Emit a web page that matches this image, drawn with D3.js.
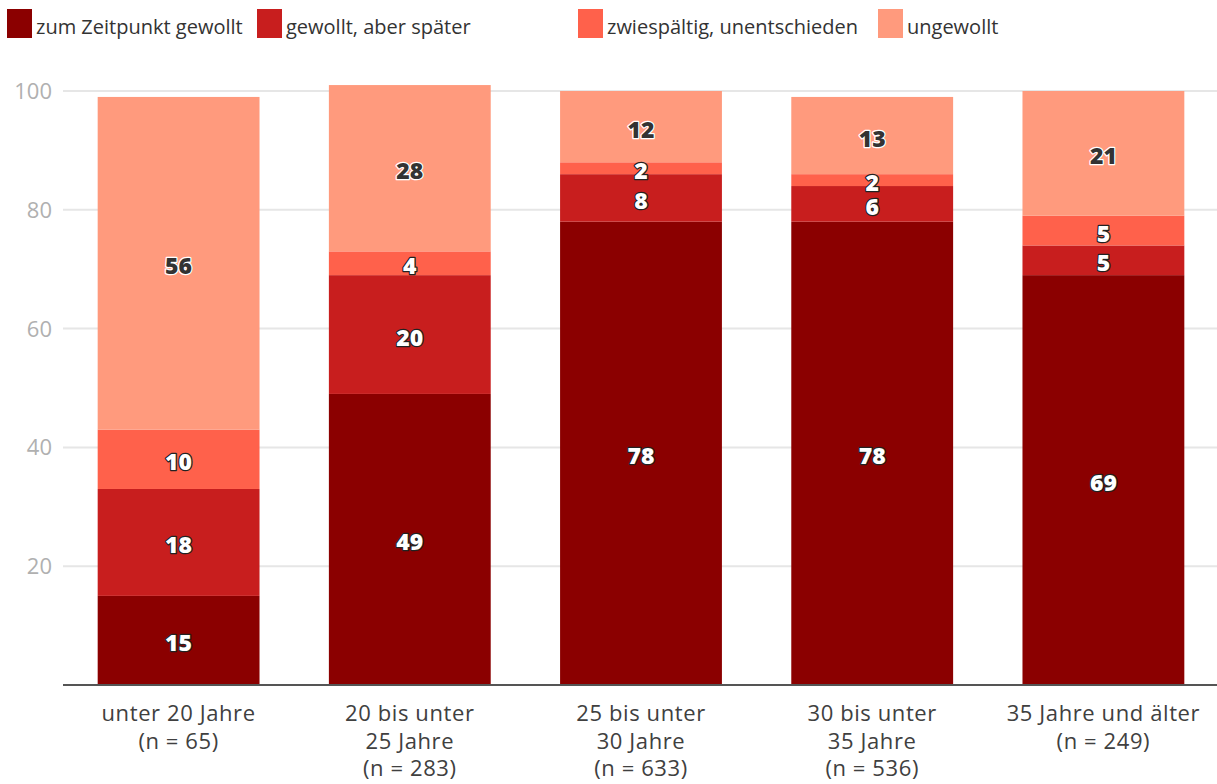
<!DOCTYPE html>
<html><head><meta charset="utf-8">
<script src="https://cdn.jsdelivr.net/npm/d3@7"></script>
<style>
body{margin:0;background:#fff;}
svg{display:block;font-family:"Open Sans", Lato, sans-serif;}
</style></head>
<body><svg id="c" width="1217" height="784"></svg>
<script>
const categories = [["unter 20 Jahre","(n = 65)"],["20 bis unter","25 Jahre","(n = 283)"],["25 bis unter","30 Jahre","(n = 633)"],["30 bis unter","35 Jahre","(n = 536)"],["35 Jahre und älter","(n = 249)"]];
const seriesNames = ["zum Zeitpunkt gewollt","gewollt, aber später","zwiespältig, unentschieden","ungewollt"];
const seriesColors = ["#8b0000","#c81e1e","#ff614b","#ff9a7d"];
const gewollt = [15,49,78,78,69];
const spaeter = [18,20,8,6,5];
const zwiespaeltig = [10,4,2,2,5];
const ungewollt = [56,28,12,13,21];
const yTicks = [20,40,60,80,100];

const values = [gewollt, spaeter, zwiespaeltig, ungewollt];
const table = categories.map((c,i)=>{const o={i}; seriesNames.forEach((s,k)=>o[s]=values[k][i]); return o;});
const stacked = d3.stack().keys(seriesNames)(table);

const svg = d3.select("#c");
const pLeft=63, pRight=1219, pTop=91, pBottom=685;
const x = d3.scaleBand().domain(d3.range(categories.length)).range([pLeft,pRight]).paddingInner(0.3).paddingOuter(0.15);
const y = d3.scaleLinear().domain([0,100]).range([pBottom,pTop]);

// grid
svg.append("g").selectAll("line").data(yTicks).join("line")
  .attr("x1",pLeft).attr("x2",1217).attr("y1",d=>y(d)).attr("y2",d=>y(d))
  .attr("stroke","#e6e6e6").attr("stroke-width",2);
svg.append("g").selectAll("text").data(yTicks).join("text")
  .attr("x",52).attr("y",d=>y(d)+8).attr("text-anchor","end")
  .attr("fill","#b0b0b0").attr("font-size",22).text(d=>d);

// bars
const g = svg.append("g");
stacked.forEach((layer,k)=>{
  g.append("g").selectAll("rect").data(layer).join("rect")
    .attr("x",(d,i)=>x(i)).attr("width",x.bandwidth())
    .attr("y",d=>y(d[1])).attr("height",d=>y(d[0])-y(d[1]))
    .attr("fill",seriesColors[k]);
});
// axis line
svg.append("line").attr("x1",pLeft).attr("x2",1217).attr("y1",pBottom).attr("y2",pBottom)
  .attr("stroke","#555").attr("stroke-width",2);

// labels
stacked.forEach((layer,k)=>{
  const light = k===3;
  const lg = svg.append("g");
  layer.forEach((d,i)=>{
    const cx = x(i)+x.bandwidth()/2, cy=(y(d[0])+y(d[1]))/2;
    const v = d[1]-d[0];
    lg.append("text").attr("x",cx).attr("y",cy+11).attr("text-anchor","middle")
      .attr("font-size",23).attr("font-weight",800)
      .attr("fill",light?"#333":"#fff").attr("stroke",light?"#fff":"#222")
      .attr("stroke-width",2.5).attr("stroke-linejoin","round").attr("paint-order","stroke")
      .text(v);
  });
});

// x labels
categories.forEach((lines,i)=>{
  const t = svg.append("text").attr("text-anchor","middle").attr("fill","#404040").attr("font-size",22).attr("letter-spacing",0.6);
  lines.forEach((l,j)=>t.append("tspan").attr("x",x(i)+x.bandwidth()/2).attr("y",721+j*27.5).text(l));
});

// legend
const legX=[7,257,578,878];
seriesNames.forEach((s,k)=>{
  svg.append("rect").attr("x",legX[k]).attr("y",9).attr("width",25).attr("height",29).attr("fill",seriesColors[k]);
  svg.append("text").attr("x",legX[k]+29).attr("y",34).attr("font-size",20).attr("fill","#333").text(s);
});
</script></body></html>
